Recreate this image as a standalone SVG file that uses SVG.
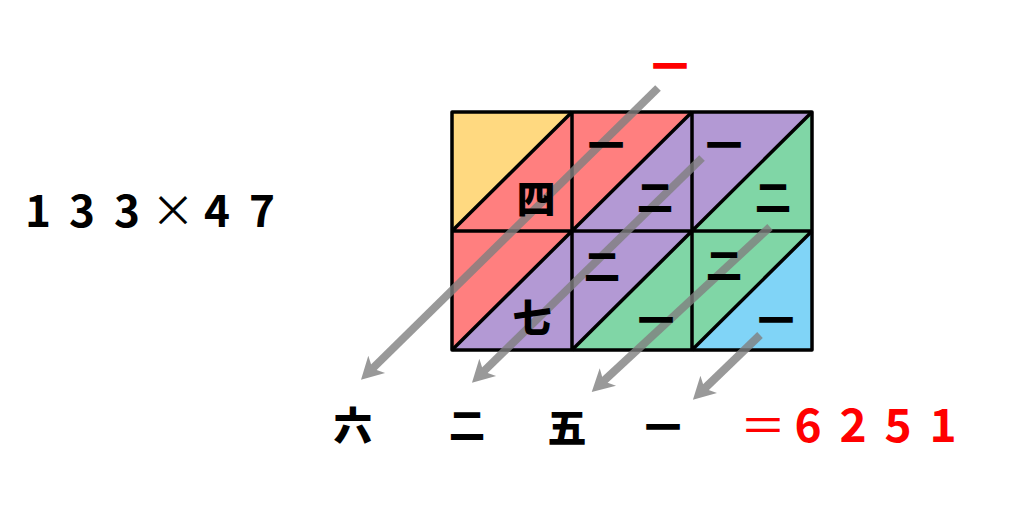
<svg xmlns="http://www.w3.org/2000/svg" width="1024" height="512" viewBox="0 0 1024 512">
<defs>
<style>
.y{fill:#FFD980}.r{fill:#FF7F7F}.p{fill:#B399D4}.g{fill:#80D6A6}.b{fill:#80D4F7}
.ln{stroke:#000;stroke-width:3.5;fill:none;stroke-linejoin:round}
.k{font-family:"Noto Sans CJK JP","Noto Sans CJK SC",sans-serif;font-weight:900;font-size:36px;text-anchor:middle;fill:#000}
.kb{font-size:39px}
.n{font-family:"Noto Sans CJK JP","Noto Sans",sans-serif;font-weight:700;font-size:44px;text-anchor:middle;fill:#000}
.rd{font-family:"Noto Sans CJK JP","Noto Sans",sans-serif;font-weight:700;font-size:46px;text-anchor:middle;fill:#FF0000}
.ar{stroke:#808080;stroke-width:8;fill:none;marker-end:url(#ah)}
</style>
<marker id="ah" markerUnits="userSpaceOnUse" viewBox="0 -13 23 26" refX="8" refY="0" markerWidth="23" markerHeight="26" orient="auto">
<path d="M0,-12 L22,0 L0,12 L6,0 Z" fill="#808080"/>
</marker>
</defs>
<rect width="1024" height="512" fill="#fff"/>

<g id="expr">
<text class="n" x="38" y="227">1</text>
<text class="n" x="82" y="227">3</text>
<text class="n" x="127" y="227">3</text>
<text class="n" x="173" y="227" style="font-weight:400">×</text>
<text class="n" x="217" y="227">4</text>
<text class="n" x="262" y="227">7</text>
</g>

<g id="cell-1-1">
<polygon class="y" points="452,112 572,112 452,231"/>
<polygon class="r" points="572,112 572,231 452,231"/>
</g>
<g id="cell-1-2">
<polygon class="r" points="572,112 692,112 572,231"/>
<polygon class="p" points="692,112 692,231 572,231"/>
</g>
<g id="cell-1-3">
<polygon class="p" points="692,112 812,112 692,231"/>
<polygon class="g" points="812,112 812,231 692,231"/>
</g>
<g id="cell-2-1">
<polygon class="r" points="452,231 572,231 452,350"/>
<polygon class="p" points="572,231 572,350 452,350"/>
</g>
<g id="cell-2-2">
<polygon class="p" points="572,231 692,231 572,350"/>
<polygon class="g" points="692,231 692,350 572,350"/>
</g>
<g id="cell-2-3">
<polygon class="g" points="692,231 812,231 692,350"/>
<polygon class="b" points="812,231 812,350 692,350"/>
</g>

<g id="grid-lines">
<rect class="ln" x="452" y="112" width="360" height="238"/>
<path class="ln" d="M452,231 H812 M572,112 V350 M692,112 V350 M452,231 L572,112 M572,231 L692,112 M692,231 L812,112 M452,350 L572,231 M572,350 L692,231 M692,350 L812,231"/>
</g>

<g id="connectors">
<g opacity="0.8"><line class="ar" x1="658" y1="88" x2="371" y2="370"/></g>
<g opacity="0.8"><line class="ar" x1="702" y1="158" x2="482" y2="373"/></g>
<g opacity="0.8"><line class="ar" x1="770" y1="227" x2="602" y2="382.5"/></g>
<g opacity="0.8"><line class="ar" x1="760" y1="335" x2="703" y2="390"/></g>
</g>

<g id="cell-digits">
<text class="k kb" x="536" y="213">四</text>
<text class="k" x="606" y="159">一</text>
<text class="k" x="655" y="211">二</text>
<text class="k" x="724" y="159">一</text>
<text class="k" x="773" y="211">二</text>
<text class="k kb" x="532" y="332">七</text>
<text class="k" x="602" y="280">二</text>
<text class="k" x="656" y="334">一</text>
<text class="k" x="724" y="279">二</text>
<text class="k" x="776" y="334">一</text>
</g>

<g id="carry">
<text class="k" x="670" y="80" style="fill:#FF0000">一</text>
</g>

<g id="result">
<text class="k kb" x="353" y="440">六</text>
<text class="k" x="467" y="439">二</text>
<text class="k kb" x="567" y="442">五</text>
<text class="k" x="663" y="441">一</text>
<text class="rd" x="763" y="442" style="font-weight:400">＝</text>
<text class="rd" x="808" y="442">6</text>
<text class="rd" x="853" y="442">2</text>
<text class="rd" x="898" y="442">5</text>
<text class="rd" x="943" y="442">1</text>
</g>
</svg>
